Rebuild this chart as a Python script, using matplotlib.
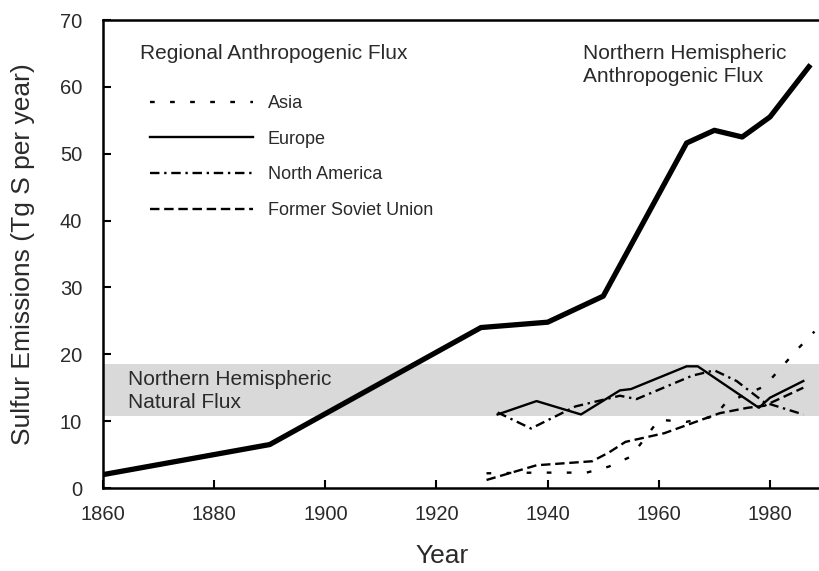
import matplotlib
matplotlib.use("Agg")
import matplotlib.pyplot as plt

plt.rcParams['font.family'] = ['Liberation Sans', 'DejaVu Sans']

# northern hemisphere total anthropogenic flux
nh_years = [1860, 1890, 1928, 1940, 1950, 1965, 1970, 1975, 1980, 1987]
nh_vals = [2.0, 6.5, 24.0, 24.8, 28.7, 51.6, 53.5, 52.5, 55.5, 63.0]

# regional fluxes
asia_years = [1929, 1938, 1947, 1951, 1955, 1960, 1965, 1970, 1972, 1979, 1982, 1985, 1988]
asia_vals = [2.2, 2.3, 2.3, 3.2, 4.7, 10.2, 9.9, 10.7, 12.7, 15.2, 18.0, 20.8, 23.4]

europe_years = [1931, 1938, 1946, 1953, 1955, 1965, 1967, 1978, 1980, 1986]
europe_vals = [11.0, 13.0, 11.0, 14.6, 14.8, 18.2, 18.2, 12.0, 13.5, 16.0]

na_years = [1931, 1937, 1945, 1953, 1956, 1966, 1970, 1974, 1979, 1986]
na_vals = [11.3, 8.9, 12.2, 13.8, 13.3, 16.8, 17.6, 16.0, 12.8, 11.0]

fsu_years = [1929, 1938, 1948, 1951, 1954, 1961, 1966, 1971, 1976, 1979, 1986]
fsu_vals = [1.2, 3.4, 4.0, 5.3, 6.9, 8.2, 9.7, 11.2, 12.0, 12.3, 15.0]

# natural flux range
natural_lo = 10.8
natural_hi = 18.6

txt = "#2a2a2a"

fig = plt.figure(figsize=(8.2, 5.71), dpi=100)
ax = fig.add_axes([103/820, 1-488/571, 1-103/820, 468/571])

ax.axhspan(natural_lo, natural_hi, color="#d9d9d9", lw=0, zorder=0)

ax.plot(nh_years, nh_vals, color="black", lw=3.8, zorder=3)

lw = 1.7
ax.plot(asia_years, asia_vals, color="black", lw=lw, linestyle=(0, (2, 6.5)), label="Asia")
ax.plot(europe_years, europe_vals, color="black", lw=lw, label="Europe")
ax.plot(na_years, na_vals, color="black", lw=lw, linestyle=(0, (4, 2, 1, 2)), label="North America")
ax.plot(fsu_years, fsu_vals, color="black", lw=lw, linestyle=(0, (4, 2)), label="Former Soviet Union")

ax.text(0.052, 0.929, "Regional Anthropogenic Flux", transform=ax.transAxes,
        fontsize=15, color=txt, va="center", ha="left")
ax.legend(loc="upper left", bbox_to_anchor=(0.0656, 0.84), frameon=False,
          fontsize=13, handlelength=5.7, labelspacing=1.04, handletextpad=0.83,
          borderpad=0, borderaxespad=0, labelcolor=txt)

ax.text(1864.5, 14.5, "Northern Hemispheric\nNatural Flux", fontsize=15,
        color=txt, va="center", ha="left", linespacing=1.3)
ax.text(1946.3, 63.3, "Northern Hemispheric\nAnthropogenic Flux", fontsize=15,
        color=txt, va="center", ha="left", linespacing=1.3)

ax.set_xlim(1860, 1989)
ax.set_ylim(0, 70)
ax.set_xticks(range(1860, 1981, 20))
ax.set_yticks(range(0, 71, 10))
ax.tick_params(direction="in", length=6, width=1.5, labelsize=14.5, colors="black",
               labelcolor=txt)
ax.tick_params(axis="x", pad=12)
ax.tick_params(axis="y", pad=15)
ax.spines["right"].set_visible(False)
for s in ["left", "bottom", "top"]:
    ax.spines[s].set_linewidth(1.8)

ax.set_xlabel("Year", fontsize=19, color=txt)
ax.xaxis.set_label_coords(0.473, -0.12)
ax.set_ylabel("Sulfur Emissions (Tg S per year)", fontsize=19, color=txt)
ax.yaxis.set_label_coords(-0.095, 0.5)

fig.savefig("out.png", dpi=100)
